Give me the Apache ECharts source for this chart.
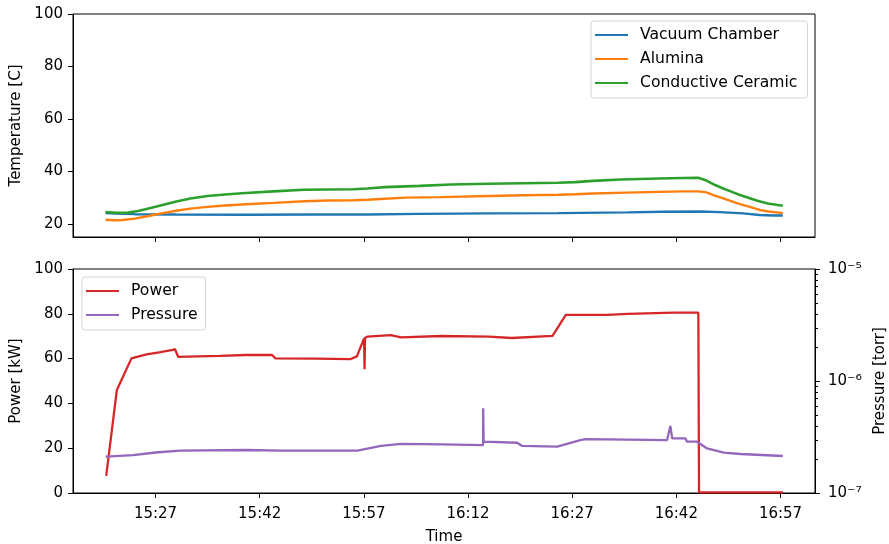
<!DOCTYPE html>
<html>
<head>
<meta charset="utf-8">
<script src="https://cdn.jsdelivr.net/npm/echarts@6/dist/echarts.min.js"></script>
<style>
  html, body { margin: 0; padding: 0; background: #fff; }
  #chart { width: 889px; height: 544px; }
</style>
</head>
<body>
<div id="chart"></div>
<script>
// ---- tick labels ----
const timeTicks = ['15:27', '15:42', '15:57', '16:12', '16:27', '16:42', '16:57'];
const tempTicks = [20, 40, 60, 80, 100];
const powerTicks = [0, 20, 40, 60, 80, 100];
const pressureTicks = [1e-7, 1e-6, 1e-5];
const pressureMinorTicks = [2e-7, 3e-7, 4e-7, 5e-7, 6e-7, 7e-7, 8e-7, 9e-7,
                            2e-6, 3e-6, 4e-6, 5e-6, 6e-6, 7e-6, 8e-6, 9e-6];

// ---- temperatures [C] ----
const vacuumTimes = ['15:19:48', '15:21:24', '15:24:00', '15:30:00', '15:40:00', '15:50:00', '15:57:30',
  '16:05:00', '16:15:00', '16:25:00', '16:35:00', '16:40:00', '16:45:30', '16:48:12', '16:51:36',
  '16:54:00', '16:56:00', '16:57:20'];
const vacuumTemp = [24.1, 23.9, 23.7, 23.6, 23.5, 23.6, 23.6,
  23.8, 24.0, 24.1, 24.4, 24.6, 24.7, 24.5, 24.0,
  23.4, 23.2, 23.2];

const aluminaTimes = ['15:19:48', '15:21:00', '15:22:18', '15:24:00', '15:26:00', '15:28:00', '15:30:00',
  '15:32:00', '15:34:30', '15:37:00', '15:40:00', '15:44:00', '15:48:24', '15:52:00', '15:55:30',
  '15:57:30', '16:00:00', '16:03:00', '16:08:00', '16:15:00', '16:20:00', '16:25:00', '16:27:24',
  '16:30:00', '16:34:42', '16:39:30', '16:43:00', '16:45:10', '16:46:20', '16:47:20', '16:48:40',
  '16:50:05', '16:51:10', '16:52:35', '16:54:00', '16:55:40', '16:57:20'];
const aluminaTemp = [21.6, 21.4, 21.5, 22.0, 23.0, 24.1, 25.0,
  25.8, 26.5, 27.0, 27.5, 28.0, 28.6, 28.9, 29.0,
  29.2, 29.6, 30.0, 30.2, 30.6, 30.9, 31.1, 31.3,
  31.6, 31.9, 32.2, 32.4, 32.4, 32.0, 31.0, 29.8,
  28.5, 27.5, 26.5, 25.3, 24.6, 24.1];

const ceramicTimes = ['15:19:48', '15:21:24', '15:23:00', '15:24:30', '15:26:00', '15:28:00', '15:30:00',
  '15:32:00', '15:34:30', '15:37:00', '15:40:00', '15:44:00', '15:48:24', '15:52:00', '15:55:30',
  '15:57:30', '16:00:00', '16:05:00', '16:09:36', '16:15:00', '16:20:00', '16:25:00', '16:27:24',
  '16:30:00', '16:34:00', '16:39:30', '16:43:00', '16:45:10', '16:46:20', '16:47:35', '16:48:40',
  '16:50:05', '16:51:10', '16:52:35', '16:53:40', '16:55:10', '16:57:20'];
const ceramicTemp = [24.5, 24.2, 24.3, 24.9, 25.9, 27.2, 28.5,
  29.7, 30.6, 31.2, 31.8, 32.4, 33.0, 33.1, 33.2,
  33.5, 34.0, 34.5, 35.0, 35.3, 35.5, 35.7, 35.9,
  36.4, 36.9, 37.3, 37.5, 37.6, 36.5, 34.8, 33.6,
  32.1, 31.0, 29.8, 28.8, 27.8, 26.9];

// ---- power [kW] ----
const powerTimes = ['15:19:54', '15:21:26', '15:23:32', '15:25:42', '15:27:30', '15:29:30', '15:29:48',
  '15:30:16', '15:33:00', '15:36:18', '15:40:00', '15:43:47', '15:44:16', '15:50:00', '15:55:06',
  '15:56:00', '15:57:02', '15:57:06', '15:57:10', '15:57:32', '16:00:54', '16:02:21', '16:08:08',
  '16:15:00', '16:18:16', '16:24:10', '16:26:05', '16:32:00', '16:35:00', '16:41:40', '16:45:10',
  '16:45:16', '16:57:20'];
const powerKW = [7.6, 46.0, 60.1, 61.9, 62.8, 63.9, 64.2,
  60.8, 61.0, 61.2, 61.6, 61.6, 60.1, 60.0, 59.8,
  61.0, 69.0, 55.2, 69.3, 69.8, 70.5, 69.5, 70.1,
  69.8, 69.2, 70.1, 79.5, 79.5, 80.0, 80.5, 80.5,
  0.3, 0.3];

// ---- pressure [torr] ----
const pressureTimes = ['15:19:48', '15:23:46', '15:27:00', '15:30:31', '15:40:10', '15:45:00', '15:56:05',
  '15:59:28', '16:02:24', '16:08:08', '16:14:10', '16:14:11', '16:14:15', '16:19:05', '16:19:48',
  '16:24:50', '16:28:10', '16:28:55', '16:40:40', '16:41:08', '16:41:24', '16:43:18', '16:43:32',
  '16:45:00', '16:46:25', '16:48:50', '16:51:15', '16:57:20'];
const pressureTorr = [2.11e-7, 2.18e-7, 2.30e-7, 2.39e-7, 2.42e-7, 2.39e-7, 2.39e-7,
  2.63e-7, 2.75e-7, 2.72e-7, 2.68e-7, 5.70e-7, 2.87e-7, 2.81e-7, 2.63e-7,
  2.59e-7, 2.97e-7, 3.03e-7, 2.97e-7, 3.97e-7, 3.08e-7, 3.08e-7, 2.87e-7,
  2.87e-7, 2.50e-7, 2.29e-7, 2.23e-7, 2.14e-7];

// clock string -> minutes after midnight
function toMinutes(s) {
  const p = s.split(':').map(Number);
  return p[0] * 60 + p[1] + (p[2] || 0) / 60;
}
function pairs(times, values) {
  return times.map((t, i) => [toMinutes(t), values[i]]);
}
function fmtClock(m) {
  const h = Math.floor(m / 60), mm = Math.round(m - h * 60);
  return h + ':' + String(mm).padStart(2, '0');
}

const tickMinutes = timeTicks.map(toMinutes);
const X_MIN = toMinutes('15:15:07');
const X_MAX = toMinutes('17:01:58');

const FONT = 'DejaVu Sans';
const FS = 15;
const C = { blue: '#1f77b4', orange: '#ff7f0e', green: '#2ca02c', red: '#d62728', purple: '#9467bd' };

const chart = echarts.init(document.getElementById('chart'), null, { renderer: 'canvas' });

function xAxisFor(gridIndex, withLabels) {
  return {
    type: 'value', gridIndex, min: X_MIN, max: X_MAX,
    name: withLabels ? 'Time' : '',
    nameLocation: 'middle', nameGap: 37,
    nameTextStyle: { fontFamily: FONT, fontSize: FS, color: '#000' },
    axisLine: { show: true, onZero: false, lineStyle: { color: '#000', width: 1 } },
    axisTick: { show: true, length: 5, customValues: tickMinutes, lineStyle: { color: '#000', width: 1 } },
    axisLabel: {
      show: withLabels, customValues: tickMinutes, margin: 14,
      formatter: v => fmtClock(v),
      fontFamily: FONT, fontSize: FS, color: '#000'
    },
    splitLine: { show: false }
  };
}

const supDigits = { '-': '\u207B', '0': '\u2070', '1': '\u00B9', '2': '\u00B2', '3': '\u00B3', '4': '\u2074',
  '5': '\u2075', '6': '\u2076', '7': '\u2077', '8': '\u2078', '9': '\u2079' };

function lineSeries(name, data, color, xi, yi, width) {
  return {
    name, type: 'line', data, xAxisIndex: xi, yAxisIndex: yi,
    symbol: 'none', showSymbol: false, silent: true,
    lineStyle: { color, width: width },
    itemStyle: { color },
    clip: true
  };
}

const legendCommon = {
  orient: 'vertical', icon: 'rect',
  itemWidth: 33, itemHeight: 2, itemGap: 6,
  backgroundColor: 'rgba(255,255,255,0.8)', borderColor: '#d4d4d4', borderWidth: 1, borderRadius: 3,
  textStyle: { fontFamily: FONT, fontSize: 15.6, color: '#000', lineHeight: 18, padding: [0, 0, 0, 7] },
  selectedMode: false
};

const gridCommon = {
  left: 73, right: 74, show: true, borderColor: '#000', borderWidth: 1,
  backgroundColor: 'transparent', containLabel: false, outerBoundsMode: 'none'
};

const option = {
  animation: false,
  backgroundColor: '#fff',
  grid: [
    Object.assign({}, gridCommon, { top: 14, height: 223 }),
    Object.assign({}, gridCommon, { top: 269, height: 224 })
  ],
  xAxis: [xAxisFor(0, false), xAxisFor(1, true)],
  yAxis: [
    {
      type: 'value', gridIndex: 0, min: 15, max: 100,
      name: 'Temperature [C]', nameLocation: 'middle', nameGap: 48, nameRotate: 90,
      nameTextStyle: { fontFamily: FONT, fontSize: FS, color: '#000' },
      axisLine: { show: true, lineStyle: { color: '#000', width: 1 } },
      axisTick: { show: true, length: 5, customValues: tempTicks, lineStyle: { color: '#000' } },
      axisLabel: { customValues: tempTicks, margin: 10, fontFamily: FONT, fontSize: FS, color: '#000' },
      splitLine: { show: false }
    },
    {
      type: 'value', gridIndex: 1, min: 0, max: 100,
      name: 'Power [kW]', nameLocation: 'middle', nameGap: 48, nameRotate: 90,
      nameTextStyle: { fontFamily: FONT, fontSize: FS, color: '#000' },
      axisLine: { show: true, lineStyle: { color: '#000', width: 1 } },
      axisTick: { show: true, length: 5, customValues: powerTicks, lineStyle: { color: '#000' } },
      axisLabel: { customValues: powerTicks, margin: 10, fontFamily: FONT, fontSize: FS, color: '#000' },
      splitLine: { show: false }
    },
    {
      type: 'log', logBase: 10, gridIndex: 1, position: 'right', min: 1e-7, max: 1e-5,
      name: 'Pressure [torr]', nameLocation: 'middle', nameGap: 57, nameRotate: 90,
      nameTextStyle: { fontFamily: FONT, fontSize: FS, color: '#000' },
      axisLine: { show: true, lineStyle: { color: '#000', width: 1 } },
      axisTick: { show: true, length: 5, customValues: pressureTicks, lineStyle: { color: '#000' } },
      axisLabel: {
        customValues: pressureTicks, margin: 13,
        formatter: v => {
          const e = String(Math.round(Math.log10(v)));
          return '{b|10}{s|' + e.split('').map(ch => supDigits[ch] || ch).join('') + '}';
        },
        rich: {
          b: { fontFamily: FONT, fontSize: FS, color: '#000' },
          s: { fontFamily: FONT, fontSize: 16, color: '#000' }
        }
      },
      splitLine: { show: false }
    }
  ],
  legend: [
    Object.assign({}, legendCommon, {
      left: 591, top: 21, padding: [5, 10, 6, 4],
      data: ['Vacuum Chamber', 'Alumina', 'Conductive Ceramic']
    }),
    Object.assign({}, legendCommon, {
      left: 82, top: 277, padding: [5, 8, 6, 4],
      data: ['Power', 'Pressure']
    })
  ],
  series: [
    lineSeries('Vacuum Chamber', pairs(vacuumTimes, vacuumTemp), C.blue, 0, 0, 2.4),
    lineSeries('Alumina', pairs(aluminaTimes, aluminaTemp), C.orange, 0, 0, 2.4),
    lineSeries('Conductive Ceramic', pairs(ceramicTimes, ceramicTemp), C.green, 0, 0, 2.6),
    lineSeries('Power', pairs(powerTimes, powerKW), C.red, 1, 1, 2.3),
    lineSeries('Pressure', pairs(pressureTimes, pressureTorr), C.purple, 1, 2, 2.3)
  ]
};

chart.setOption(option);

// minor ticks of the logarithmic pressure axis, placed on its right spine
const spineX = chart.convertToPixel({ xAxisIndex: 1 }, X_MAX);
chart.setOption({
  graphic: pressureMinorTicks.map(v => {
    const y = Math.round(chart.convertToPixel({ yAxisIndex: 2 }, v)) + 0.5;
    return {
      type: 'line', silent: true,
      shape: { x1: spineX, y1: y, x2: spineX + 3, y2: y },
      style: { stroke: '#000', lineWidth: 1 }
    };
  })
});
</script>
</body>
</html>
